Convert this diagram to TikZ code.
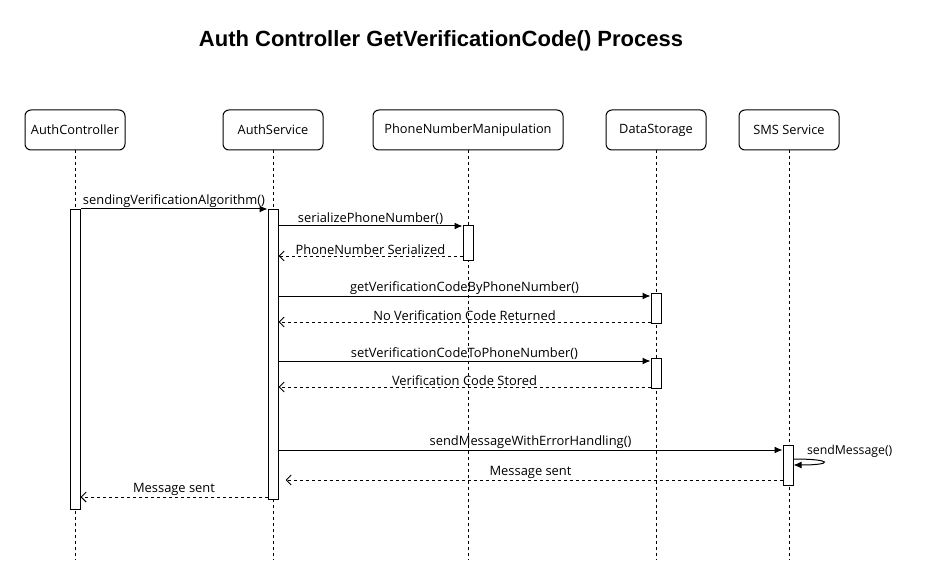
\documentclass[tikz,border=0pt]{standalone}
\usepackage{fontspec}
\setmainfont{Open Sans}
\newfontfamily\titlefont{Liberation Sans}
\usetikzlibrary{arrows.meta,positioning}

\tikzset{
  lifehead/.style={draw, rounded corners=6pt, minimum width=100pt, minimum height=40pt, inner sep=0pt, font=\fontsize{12.8}{15}\selectfont},
  lifeline/.style={dash pattern=on 3pt off 3pt},
  activation/.style={draw, fill=white, minimum width=10pt, inner sep=0pt, anchor=north},
  msg/.style={-{Latex[length=8pt,width=7pt]}},
  reply/.style={dash pattern=on 3pt off 3pt, -{Straight Barb[length=5pt,width=10pt]}},
  msglabel/.style={midway, above, inner sep=0.5pt, font=\fontsize{12.9}{15}\selectfont}
}

\begin{document}
\begin{tikzpicture}[x=1pt,y=-1pt,line width=1pt]
\useasboundingbox (0,0) rectangle (925,585);

% title
\node[font=\titlefont\fontsize{22}{26}\selectfont\bfseries] (title) at (441,41) {Auth Controller GetVerificationCode() Process};

% lifeline heads
\node[lifehead] (hCtrl) at (75,130) {AuthController};
\node[lifehead] (hSvc) at (273,130) {AuthService};
\node[lifehead, minimum width=190pt] (hPhone) at (468,130) {PhoneNumberManipulation};
\node[lifehead] (hData) at (656,130) {DataStorage};
\node[lifehead] (hSms) at (789,130) {SMS Service};

% lifelines
\coordinate (bottom) at (0,560);
\foreach \h in {hCtrl,hSvc,hPhone,hData,hSms}
  \draw[lifeline] (\h.south) -- (\h |- bottom);

% activations
\node[activation, minimum height=300pt] (aCtrl) at (75,209) {};
\node[activation, minimum height=290pt] (aSvc) at (273,209) {};
\node[activation, minimum height=35pt] (aPhone) at (468,225) {};
\node[activation, minimum height=30pt] (aDataA) at (656,293) {};
\node[activation, minimum height=30pt] (aDataB) at (656,358) {};
\node[activation, minimum height=40pt] (aSms) at (788,445) {};

% message levels
\coordinate (m1) at (0,209);
\coordinate (m2) at (0,226);
\coordinate (m3) at (0,256);
\coordinate (m4) at (0,296);
\coordinate (m5) at (0,322);
\coordinate (m6) at (0,361);
\coordinate (m7) at (0,387);
\coordinate (m8) at (0,450);
\coordinate (s1) at (0,459);
\coordinate (s2) at (0,465);
\coordinate (m9) at (0,480);
\coordinate (m10) at (0,497);

% messages
\draw[msg] (aCtrl.east |- m1) -- node[msglabel] {sendingVerificationAlgorithm()} (aSvc.west |- m1);
\draw[msg] (aSvc.east |- m2) -- node[msglabel] {serializePhoneNumber()} (aPhone.west |- m2);
\draw[reply] (aPhone.west |- m3) -- node[msglabel] {PhoneNumber Serialized} (aSvc.east |- m3);
\draw[msg] (aSvc.east |- m4) -- node[msglabel] {getVerificationCodeByPhoneNumber()} (aDataA.west |- m4);
\draw[reply] (aDataA.west |- m5) -- node[msglabel] {No Verification Code Returned} (aSvc.east |- m5);
\draw[msg] (aSvc.east |- m6) -- node[msglabel] {setVerificationCodeToPhoneNumber()} (aDataB.west |- m6);
\draw[reply] (aDataB.west |- m7) -- node[msglabel] {Verification Code Stored} (aSvc.east |- m7);
\draw[msg] (aSvc.east |- m8) -- node[msglabel] {sendMessageWithErrorHandling()} (aSms.west |- m8);
\draw[-{Latex[length=8pt,width=7pt]}] (aSms.east |- s1) .. controls +(40,0) and +(40,0) .. node[pos=0, anchor=south west, xshift=12pt, yshift=0pt, inner sep=1pt, font=\fontsize{12.3}{15}\selectfont] {sendMessage()} (aSms.east |- s2);
\draw[reply, shorten >=7pt] (aSms.west |- m9) -- node[msglabel] {Message sent} (aSvc.east |- m9);
\draw[reply] (aSvc.west |- m10) -- node[msglabel] {Message sent} (aCtrl.east |- m10);
\end{tikzpicture}
\end{document}
